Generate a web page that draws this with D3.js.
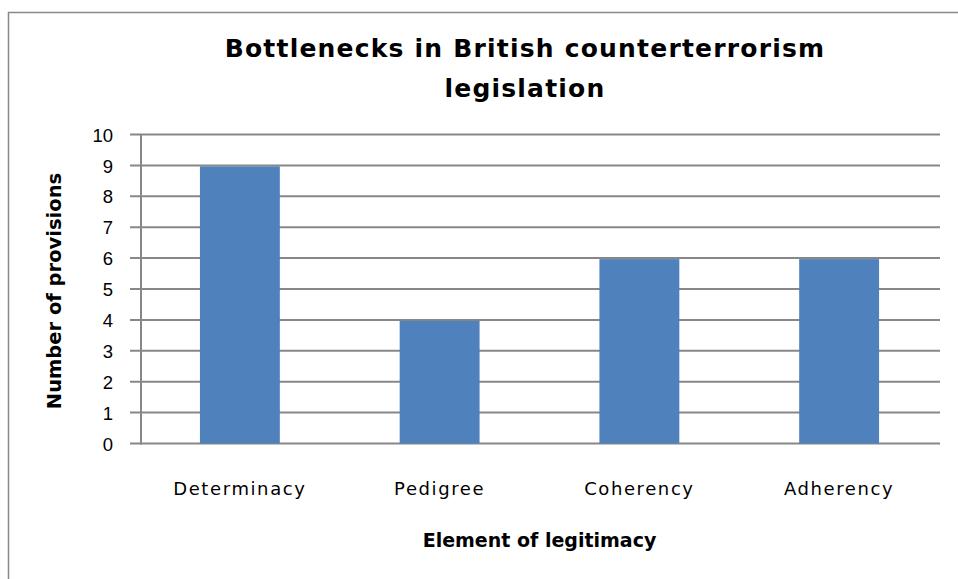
<!DOCTYPE html>
<html>
<head>
<meta charset="utf-8">
<script src="https://cdn.jsdelivr.net/npm/d3@7"></script>
<style>
  body { margin: 0; background: #fff; }
  text { fill: #000; }
</style>
</head>
<body>
<script>
const categories = ["Determinacy", "Pedigree", "Coherency", "Adherency"];
const values = [9, 4, 6, 6];
const yTicks = [0, 1, 2, 3, 4, 5, 6, 7, 8, 9, 10];
const titleLines = ["Bottlenecks in British counterterrorism", "legislation"];

const width = 958, height = 579;
const plot = { left: 140, right: 939, top: 134.5, bottom: 443.5 };

let svg = d3.select("body")
  .append("svg")
  .attr("width", width)
  .attr("height", height);

// chart frame (only left/top edges fall inside the picture)
svg.append("rect")
  .attr("x", 8.5).attr("y", 12.5)
  .attr("width", 980).attr("height", 600)
  .attr("fill", "none")
  .attr("stroke", "#888")
  .attr("stroke-width", 1.5);

const x = d3.scaleBand()
  .domain(categories)
  .range([plot.left, plot.right])
  .paddingInner(0.6)
  .paddingOuter(0.3);

const y = d3.scaleLinear()
  .domain([0, 10])
  .range([plot.bottom, plot.top]);

// gridlines (run a little left of the axis like tick marks)
svg.append("g")
  .selectAll("line")
  .data(yTicks)
  .enter()
  .append("line")
  .attr("x1", 130)
  .attr("x2", plot.right + 1)
  .attr("y1", d => y(d))
  .attr("y2", d => y(d))
  .attr("stroke", "#878787")
  .attr("stroke-width", 2);

// bars
svg.append("g")
  .selectAll("rect")
  .data(values)
  .enter()
  .append("rect")
  .attr("x", (d, i) => x(categories[i]))
  .attr("width", x.bandwidth())
  .attr("y", d => y(d) + 1)
  .attr("height", d => y(0) - y(d) - 1)
  .attr("fill", "#4F81BD");

// y axis line
svg.append("line")
  .attr("x1", plot.left + 1).attr("x2", plot.left + 1)
  .attr("y1", plot.top).attr("y2", plot.bottom + 1)
  .attr("stroke", "#878787")
  .attr("stroke-width", 2);

// y tick labels
const yAxis = svg.append("g")
  .attr("transform", "translate(" + 120 + ",0)")
  .call(d3.axisLeft(y).tickValues(yTicks).tickSize(0).tickPadding(7));
yAxis.select(".domain").remove();
yAxis.selectAll("text")
  .style("font-family", "'Liberation Sans', Arial, sans-serif")
  .style("font-size", "18.5px")
  .attr("dy", "0.36em");

// x category labels
const xAxis = svg.append("g")
  .attr("transform", "translate(0," + plot.bottom + ")")
  .call(d3.axisBottom(x).tickSize(0).tickPadding(0));
xAxis.select(".domain").remove();
xAxis.selectAll("text")
  .attr("y", 51)
  .attr("dy", 0)
  .style("font-family", "'DejaVu Sans', sans-serif")
  .style("font-size", "18px")
  .style("letter-spacing", "1.6px");

// title
svg.append("g")
  .selectAll("text")
  .data(titleLines)
  .enter()
  .append("text")
  .attr("x", 525)
  .attr("y", (d, i) => 57 + i * 40)
  .attr("text-anchor", "middle")
  .style("font-family", "'DejaVu Sans', sans-serif")
  .style("font-weight", "bold")
  .style("font-size", "25px")
  .style("letter-spacing", "1.2px")
  .text(d => d);

// axis titles
svg.append("text")
  .attr("x", (plot.left + plot.right) / 2)
  .attr("y", 547)
  .attr("text-anchor", "middle")
  .style("font-family", "'DejaVu Sans', sans-serif")
  .style("font-weight", "bold")
  .style("font-size", "19px")
  .text("Element of legitimacy");

svg.append("text")
  .attr("transform", "translate(61," + ((plot.top + plot.bottom) / 2 + 2) + ") rotate(-90)")
  .attr("text-anchor", "middle")
  .style("font-family", "'DejaVu Sans', sans-serif")
  .style("font-weight", "bold")
  .style("font-size", "19.5px")
  .text("Number of provisions");
</script>
</body>
</html>
